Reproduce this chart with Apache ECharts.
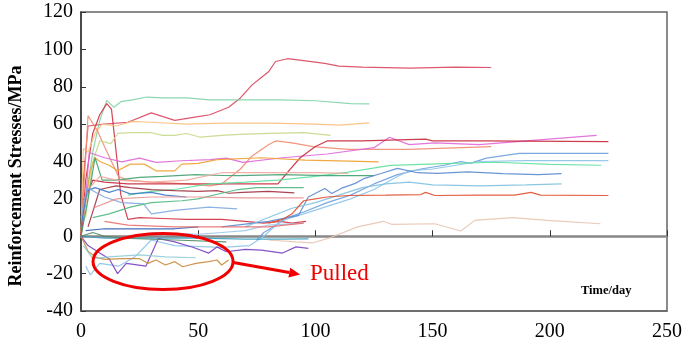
<!DOCTYPE html>
<html><head><meta charset="utf-8">
<script src="https://cdn.jsdelivr.net/npm/echarts@6/dist/echarts.min.js"></script>
<style>html,body{margin:0;padding:0;background:#fff}#c{width:685px;height:346px}</style>
</head><body><div id="c"></div>
<script>
const xTicks = [0, 50, 100, 150, 200, 250];
const yTicks = [-40, -20, 0, 20, 40, 60, 80, 100, 120];

const s01 = [[0,0],[1,30],[3,59],[10,60],[20,61],[30,66],[35,64],[40,62],[50,64],[55,65],[63,69],[68,74],[73,81],[76,84],[80,88],[83,93.5],[88,95],[95,94],[104,92.5],[110,91],[120,90.5],[140,90],[160,90.5],[175,90.3]];
const s02 = [[0,0],[2,20],[5,45],[8,62],[11,72.7],[14,69],[17,72],[22,73],[28,74.5],[35,74],[45,74],[55,73],[70,73],[85,73],[100,72.5],[115,71],[123,70.8]];
const s03 = [[0,0],[2,30],[5,55],[8,65],[11,71],[13,68],[15,45],[17,22],[20,9],[25,10],[35,9.5],[45,9],[60,9],[70,8],[78,7],[85,8],[90,7],[96,8]];
const s04 = [[0,2],[1,47],[3,45],[6,55],[9,60],[15,59],[22,61.5],[30,61],[45,60],[60,60.5],[80,60.5],[100,60],[110,59.5],[123,60.7]];
const s05 = [[0,0],[3,64.5],[7,56.5],[10,48],[13,40],[16,32],[20,30],[30,29],[45,28],[55,27],[60,28],[68,36],[73,43],[80,49],[83,51],[90,50],[99,48],[114,46.5],[140,46.5],[175,48]];
const s06 = [[2,10],[5,40],[8,51],[12.7,49.6],[15.7,55],[21,55.4],[30,55.4],[35,54],[40,54],[45,55],[51,53],[60,54],[67.5,54.5],[80,55],[95,55.4],[106.5,54]];
const s07 = [[2,20],[3.5,44.8],[10,42],[17.4,39.8],[25,41.8],[32,39.5],[43,40.4],[55,41],[62,41.8],[69,39.5],[86,42],[105,44],[125,47.4],[131.6,53],[140,49],[151,50],[170,49],[190,51],[220,54]];
const s08 = [[0,0],[2,20],[5,30],[10,29],[20,28],[40,28],[60,28],[70,28],[84,28],[88,34],[93.5,42],[100,48],[105,51],[120,51],[147,52],[150,51],[170,51],[225,50.6]];
const s09 = [[75,-2],[78,2],[82,5],[88,10],[95,13],[105,18],[115,22],[125,28],[135,33],[145,36],[155,38],[162,40],[166,39],[173,41.8],[187,44.3],[225,44.4]];
const s10 = [[2,-16],[4,-20.7],[8,-14.5],[16,-16],[23,-11],[30,-2],[40,-5],[60,-6],[72,-5],[78,0],[85,8],[95,12],[105,16],[115,20],[125,25],[135,32],[140,35],[150,36],[160,38],[170,40],[190,40.5],[225,40.5]];
const s11 = [[60,5],[80,8],[92.8,11.2],[97,21],[104,25.6],[107,22.9],[111,25.6],[117,28.3],[121,31],[128,33.6],[135,36.3],[143.6,34],[152,33.6],[165,34.5],[180,33.5],[195,33],[205,33.5]];
const s12 = [[70,5],[80,10],[90,15],[100,18],[110,22],[120,26],[130,28],[140,29],[150,27.5],[170,27],[190,27.5],[205,28]];
const s13 = [[20,22],[30,24],[40,25],[55,28],[70,29],[84,30],[100,32],[114,34.3],[132,37.9],[155,38.9],[177,39.6],[200,38.5],[222,38]];
const s14 = [[1,10],[4,35],[6,42],[8,40],[12,38],[15.6,35],[21,38.6],[27,38.6],[32,35],[40,35],[43,38.6],[50,39],[58,41],[77,42],[95.6,40.7],[110,40.3],[127,39.8]];
const s15 = [[0,0],[3,20],[6,42],[9,30],[15,30],[25,31.5],[35,32],[49,33],[60,32.5],[67.5,32.4],[86,33],[104.7,32.4],[125,32.4]];
const s16 = [[0,5],[3,25],[8,32],[15,30],[30,29],[45,30],[60,34],[80,34],[100,34],[114,33.6]];
const s17 = [[3,5],[8,25],[15,27],[21,26],[30,25],[40,24.4],[50,24],[58,24.4],[63,23],[69,23.5],[80,24],[91,23.2]];
const s18 = [[80,7],[86,9],[90,12],[95,19],[100,20],[105,21],[114,21.8],[130,22],[145,22.3],[147,23.5],[151,21.8],[170,22],[185,22],[192,23.5],[196,22],[225,21.8]];
const s19 = [[80,-2],[91.7,-3],[99,-3.5],[106.5,-0.7],[118,5],[129,8],[132.5,6.4],[151,6.7],[162,2.8],[168,8.5],[184,10],[199,8.5],[221.6,6.7]];
const s20 = [[0,0],[10,-1],[30,-1],[50,-1],[70,-1.5],[85,-1.5],[97,-1.4]];
const s21 = [[0,0],[3,-5],[8,-9],[12,-12],[15.6,-20],[19.3,-14.5],[27.7,-16],[33,-1.2],[40,-3],[48,-6],[54.5,-9],[58,-5.7],[62,-8.3],[70,-7],[77,-7.4],[86,-9],[91.7,-5.7],[97,-6.5]];
const s22 = [[0,0],[3,-8],[6,-11],[10,-12.4],[18,-12],[25,-12],[28.6,-14.5],[32,-12.7],[36,-15.4],[40,-13.6],[43.4,-16.3],[49,-14.5],[54.5,-13.6],[58,-12.7],[60,-15.4],[63,-12.7]];
const s23 = [[1,-5],[5,-12],[12,-11],[25,-10],[36,-11],[49,-11.5]];
const s24 = [[0,0],[5,2],[10,0],[21,-1.2],[40,-2],[62,-3]];
const s25 = [[0,5],[2.6,24.4],[6,26],[12,23.5],[16,25],[21,22.7],[30,23.5],[36,22],[45,21]];
const s26 = [[0,10],[2.6,26],[10,21],[17.4,18],[26.7,17.3],[30,12],[40,13.8],[54.5,15.6],[66.6,14.7]];
const s27 = [[5,10],[12,12],[21,15.6],[30,18],[43,19],[50,20],[60,23],[67,25],[75,26],[95,26]];
const s28 = [[2,3],[10,4],[20,4],[30,4],[40,4],[50,5]];
const s29 = [[30,2],[50,1],[60,2],[70,3],[80,6],[95,7]];
const s30 = [[10,8],[20,6],[40,5],[60,5],[80,5],[95,7]];
const s31 = [[5,15],[15,20],[30,21],[50,21],[70,20.5],[95,20.5]];

const seriesData = [s01,s02,s03,s04,s05,s06,s07,s08,s09,s10,s11,s12,s13,s14,s15,s16,s17,s18,s19,s20,s21,s22,s23,s24,s25,s26,s27,s28,s29,s30,s31];
const colors = ['#d9465e','#7fd3a8','#d03040','#f8c07a','#f08a70','#c5d88a','#e066d8','#c8283a','#6f9fdc','#8cc4e8','#5a8ad0','#7ec0e0','#5ee0a0','#f0a030','#40a070','#f0a8a0','#a03040','#e05030','#e8c4b0','#3aa0c0','#7a3fc0','#c88a3a','#90ccd6','#508a60','#3a78c8','#80a8e0','#50b880','#3060b0','#9ac8e8','#e87070','#e89090'];

const chart = echarts.init(document.getElementById('c'));
const font = '"Liberation Serif", "Times New Roman", serif';
chart.setOption({
  animation: false,
  grid: {left: 81, right: 14, top: 12, bottom: 35, show: true, borderColor: '#666', borderWidth: 1.5, backgroundColor: '#fff'},
  xAxis: [{
    type: 'value', min: xTicks[0], max: xTicks[xTicks.length-1], interval: 50, position: 'bottom',
    axisLine: {show: true, onZero: false, lineStyle: {color: '#666', width: 1.5}},
    axisTick: {show: false}, splitLine: {show: false},
    axisLabel: {fontFamily: font, fontSize: 20, color: '#000', margin: 11}
  }, {
    type: 'value', min: xTicks[0], max: xTicks[xTicks.length-1], interval: 50, position: 'top',
    axisLine: {show: true, onZero: true, lineStyle: {color: '#888', width: 2.5}},
    axisTick: {show: true, inside: false, length: 6, lineStyle: {color: '#333', width: 1}},
    axisLabel: {show: false}, splitLine: {show: false}
  }],
  yAxis: {
    type: 'value', min: yTicks[0], max: yTicks[yTicks.length-1], interval: 20,
    axisLine: {show: true, lineStyle: {color: '#333', width: 1.5}},
    axisTick: {show: true, inside: true, length: 5, lineStyle: {color: '#333'}},
    splitLine: {show: false},
    axisLabel: {fontFamily: font, fontSize: 20, color: '#000', margin: 8}
  },
  series: seriesData.map((d, i) => ({
    type: 'line', data: d, showSymbol: false, symbol: 'none', xAxisIndex: 0,
    lineStyle: {width: 1.2, color: colors[i], opacity: 0.9}, z: 2
  }))
});

const c1 = chart.convertToPixel({xAxisIndex: 0, yAxisIndex: 0}, [35, -13.5]);
const pA = chart.convertToPixel({xAxisIndex: 0, yAxisIndex: 0}, [65, -14]);
const pB = chart.convertToPixel({xAxisIndex: 0, yAxisIndex: 0}, [93.5, -20.5]);
const ang = Math.atan2(pB[1]-pA[1], pB[0]-pA[0]);
const hl = 11, hw = 5;
const tip = pB, bx = tip[0]-hl*Math.cos(ang), by = tip[1]-hl*Math.sin(ang);
chart.setOption({
  graphic: [
    {type: 'ellipse', shape: {cx: c1[0], cy: c1[1], rx: 70, ry: 28}, style: {fill: 'none', stroke: '#f00000', lineWidth: 3}, z: 10},
    {type: 'line', shape: {x1: pA[0], y1: pA[1], x2: bx, y2: by}, style: {stroke: '#f00000', lineWidth: 3}, z: 10},
    {type: 'polygon', shape: {points: [[tip[0], tip[1]], [bx + hw*Math.sin(ang), by - hw*Math.cos(ang)], [bx - hw*Math.sin(ang), by + hw*Math.cos(ang)]]}, style: {fill: '#f00000'}, z: 10},
    {type: 'text', left: 310, top: 262, style: {text: 'Pulled', fontFamily: font, fontSize: 23, fill: '#f00000'}, z: 10},
    {type: 'text', left: 581, top: 284, style: {text: 'Time/day', fontFamily: font, fontSize: 12.5, fontWeight: 'bold', fill: '#000'}, z: 10},
    {type: 'text', x: 16, y: 176, rotation: Math.PI/2, style: {text: 'Reinforcement Stresses/MPa', fontFamily: font, fontSize: 18, fontWeight: 'bold', fill: '#000', align: 'center', verticalAlign: 'middle'}, z: 10}
  ]
});
</script></body></html>
